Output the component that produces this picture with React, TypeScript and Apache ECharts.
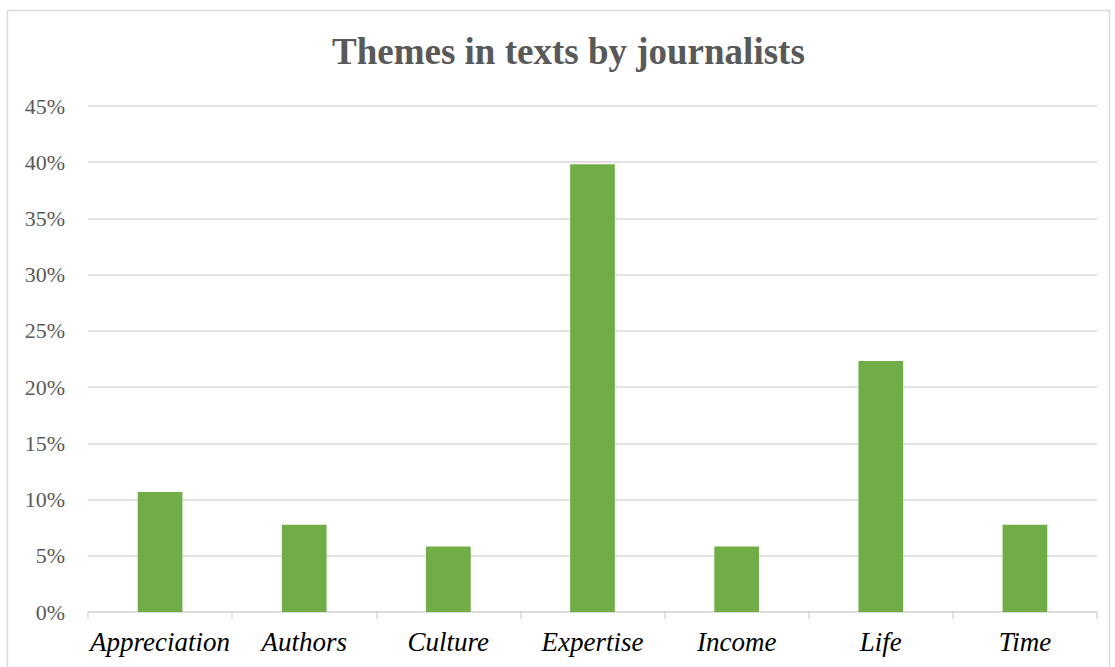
import React, { useEffect, useRef } from "react";
import * as echarts from "echarts";

const categories = ["Appreciation", "Authors", "Culture", "Expertise", "Income", "Life", "Time"];
const shares = [10.68, 7.77, 5.83, 39.81, 5.83, 22.33, 7.77];
const yTicks = { min: 0, max: 45, interval: 5 };
const titleText = "Themes in texts by journalists";

const SERIF = "'Liberation Serif', 'Times New Roman', Times, serif";

export default function App() {
  const ref = useRef<HTMLDivElement>(null);
  useEffect(() => {
    if (!ref.current) return;
    const chart = echarts.init(ref.current, undefined, { renderer: "svg" });
    chart.setOption({
      animation: false,
      backgroundColor: "#ffffff",
      title: {
        text: titleText,
        left: 327,
        top: 28,
        textStyle: {
          fontFamily: SERIF,
          fontWeight: "bold",
          fontSize: 37,
          color: "#595959",
        },
      },
      graphic: [
        {
          type: "rect",
          shape: { x: 7.5, y: 10.5, width: 1102, height: 700 },
          style: { fill: "none", stroke: "#d9d9d9", lineWidth: 1.5 },
          silent: true,
        },
      ],
      grid: { left: 88, right: 18, top: 106, bottom: 55, containLabel: false },
      xAxis: {
        type: "category",
        data: categories,
        axisLine: { show: true, lineStyle: { color: "#d9d9d9", width: 1.5 } },
        axisTick: { show: true, alignWithLabel: false, length: 7, lineStyle: { color: "#d9d9d9", width: 1.5 } },
        axisLabel: {
          fontFamily: SERIF,
          fontStyle: "italic",
          fontSize: 27,
          color: "#000000",
          margin: 16,
          interval: 0,
        },
      },
      yAxis: {
        type: "value",
        min: yTicks.min,
        max: yTicks.max,
        interval: yTicks.interval,
        axisLine: { show: false },
        axisTick: { show: false },
        splitLine: { lineStyle: { color: "#d9d9d9", width: 1.5 } },
        axisLabel: {
          formatter: (v: number) => `${v}%`,
          fontFamily: SERIF,
          fontSize: 22,
          color: "#595959",
          margin: 23,
        },
      },
      series: [
        {
          type: "bar",
          data: shares,
          barWidth: "31%",
          itemStyle: { color: "#70ad47" },
        },
      ],
    });
    return () => chart.dispose();
  }, []);
  return (
    <div
      ref={ref}
      style={{ position: "absolute", left: 0, top: 0, width: 1115, height: 667 }}
    />
  );
}
